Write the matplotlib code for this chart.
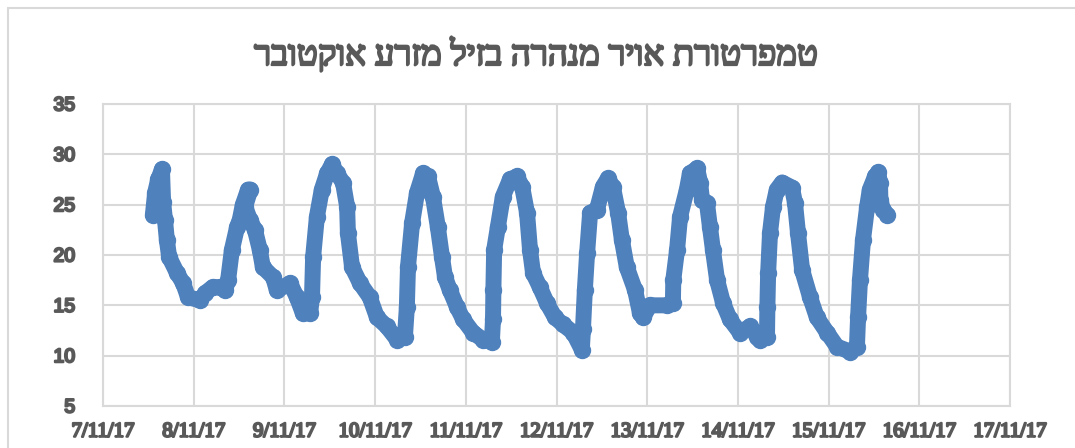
import matplotlib
matplotlib.use("Agg")
import matplotlib.pyplot as plt
import matplotlib.patches as mpatches
import matplotlib.patheffects as pe
import pandas as pd

# hours since 7/11/17 00:00 and air temperature
hours = [
    13.2, 13.8, 14.6, 15.6, 15.9, 16.4, 16.9, 17.5, 19.6, 21.2, 22.5,
    25.7, 27.0, 29.0, 31.0, 32.3, 33.1, 34.1, 35.5, 36.2, 37.0, 38.4, 39.0,
    37.6, 38.9, 40.2, 41.5, 42.3, 45.0, 46.0, 49.5, 51.3, 52.9, 54.8, 55.3,
    55.6, 56.6, 57.9, 59.3, 60.6, 61.9, 63.5, 64.6, 64.8, 65.9, 68.0,
    70.6, 72.5, 75.1, 77.8, 79.9, 80.4, 80.7, 81.8, 83.1, 84.7, 86.0,
    87.3, 88.6, 89.7, 90.5, 91.8, 93.7, 95.3, 97.9, 100.5, 102.9, 103.2,
    103.3, 103.5, 104.5, 105.8, 107.7, 109.5, 110.9, 112.2, 113.0, 113.8,
    115.6, 117.5, 119.6, 121.7, 124.4, 126.7, 127.0, 127.5, 128.1, 128.9,
    130.7, 132.3, 133.6, 134.9, 136.3, 137.3, 138.6, 140.8, 142.1, 142.9,
    144.7, 149.2, 150.8, 150.9, 151.9, 152.7, 154.5, 155.3, 157.2, 158.0,
    158.5, 159.8, 160.6, 161.4, 162.5, 164.1, 165.9, 168.5, 171.2, 173.1,
    173.8, 175.7, 175.8, 176.0, 176.5, 177.3, 178.3, 179.7, 182.3, 183.1,
    183.9, 185.0, 187.1, 188.9, 191.6, 194.2, 197.7, 199.5, 199.8, 200.3,
    201.1, 202.2, 202.9, 204.3, 205.1, 205.6, 205.7, 206.4, 207.5,
]
temps = [
    24.0, 26.2, 27.5, 28.5, 25.3, 23.5, 21.5, 19.8, 18.2, 17.2, 15.8,
    15.5, 16.2, 16.8, 16.8, 16.5, 17.5, 20.5, 22.8, 23.5, 25.0, 26.5, 26.5,
    24.8, 23.5, 22.5, 20.5, 18.8, 17.8, 16.5, 17.2, 15.8, 14.2, 14.2, 15.8,
    19.8, 23.8, 26.5, 28.1, 29.0, 28.1, 27.2, 24.8, 22.2, 18.8, 17.2,
    15.8, 13.8, 12.9, 11.6, 11.9, 14.8, 18.8, 23.2, 26.2, 28.1, 27.8,
    25.8, 22.8, 19.8, 17.8, 16.5, 14.8, 13.6, 12.3, 11.6, 11.4, 13.6,
    16.5, 20.5, 22.8, 25.8, 27.5, 27.8, 26.8, 24.2, 20.5, 18.2,
    16.8, 15.2, 13.8, 13.1, 12.3, 10.6, 12.6, 16.5, 20.2, 24.2,
    24.5, 26.8, 27.6, 26.8, 24.2, 21.5, 18.8, 16.5, 14.2, 13.8,
    15.0, 15.0, 15.2, 17.5, 20.5, 23.8, 26.5, 28.1, 28.6, 27.2,
    25.5, 25.2, 22.8, 20.5, 17.5, 15.2, 13.6, 12.3, 12.9, 11.9,
    11.6, 11.9, 14.8, 18.2, 22.2, 24.8, 26.5, 27.2, 26.7, 25.2,
    22.2, 18.5, 15.8, 13.8, 12.3, 10.9, 10.4, 10.9, 13.8, 17.5,
    21.5, 24.8, 26.5, 27.8, 28.2, 27.2, 25.5, 24.5, 24.0,
]

title = "טמפרטורת אויר מנהרה בזיל מזרע אוקטובר"
start = pd.Timestamp("2017-11-07")
x_ticks = pd.date_range("2017-11-07", "2017-11-17", freq="D")
x_labels = ["{}/{}/{}".format(d.day, d.month, d.strftime("%y")) for d in x_ticks]
y_ticks = [5, 10, 15, 20, 25, 30, 35]

times = start + pd.to_timedelta(hours, unit="h")

text_grey = "#595959"
# the bold faces are not available, so thicken the strokes instead
bolder = [pe.withStroke(linewidth=1.6, foreground=text_grey)]

fig = plt.figure(figsize=(10.75, 4.48), dpi=100)
# chart area border (runs off the right and bottom edges)
fig.patches.append(mpatches.Rectangle((8 / 1075, -0.1), 1.2, 1.1 - 8 / 448,
                                      transform=fig.transFigure, fill=False,
                                      edgecolor="#D9D9D9", linewidth=1.5))

ax = fig.add_axes([103 / 1075, 1 - 406 / 448, (1010 - 103) / 1075, (406 - 104) / 448])
ax.plot(times, temps, color="#4F81BD", linewidth=11.5, solid_capstyle="round",
        solid_joinstyle="round", marker="o", markersize=11.5, zorder=3)

ax.set_xlim(x_ticks[0], x_ticks[-1])
ax.set_ylim(5, 35)
ax.set_xticks(x_ticks)
ax.set_xticklabels(x_labels, fontsize=15, family="Liberation Serif",
                   color=text_grey, path_effects=bolder)
ax.set_yticks(y_ticks)
ax.set_yticklabels([str(v) for v in y_ticks], fontsize=14, family="Liberation Sans",
                   color=text_grey, path_effects=bolder)

ax.grid(True, color="#D9D9D9", linewidth=1.5)
ax.set_axisbelow(True)
for side in ["top", "right", "left", "bottom"]:
    ax.spines[side].set_color("#D9D9D9")
    ax.spines[side].set_linewidth(1.5)
ax.tick_params(length=0)
ax.tick_params(axis="y", pad=20)
ax.tick_params(axis="x", pad=12)

# matplotlib has no bidi support, so reverse the Hebrew string for display
fig.text(536 / 1075, 1 - 55 / 448, title[::-1], ha="center", va="center",
         fontsize=25, color=text_grey, path_effects=[pe.withStroke(linewidth=1.6, foreground=text_grey)],
         family=["Liberation Serif", "DejaVu Sans"])

fig.savefig("out.png", dpi=100)
